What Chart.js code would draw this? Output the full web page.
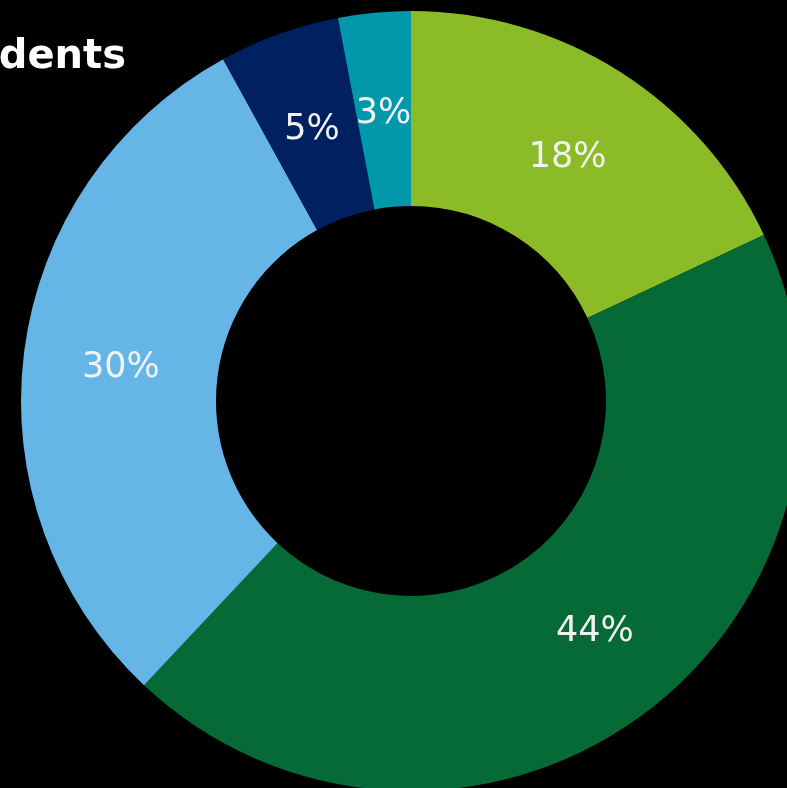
<!DOCTYPE html>
<html>
<head>
<meta charset="utf-8">
<script src="https://cdn.jsdelivr.net/npm/chart.js@4/dist/chart.umd.min.js"></script>
<style>
    html, body { margin: 0; padding: 0; background: #000; overflow: hidden; }
    #wrap { position: absolute; left: 0; top: 0; width: 822px; height: 802px; }
</style>
</head>
<body>
<div id="wrap"><canvas id="donut" width="822" height="802"></canvas></div>
<script>
const categories = ['A', 'B', 'C', 'D', 'E'];
const shares = [18, 44, 30, 5, 3];
const sliceColors = ['#8BBC28', '#056A36', '#65B5E6', '#00205F', '#0098AA'];
const titleText = 'dents';

// percentage labels in the middle of each ring segment
const sliceLabels = {
    id: 'sliceLabels',
    afterDatasetsDraw(chart) {
        const ctx = chart.ctx;
        const meta = chart.getDatasetMeta(0);
        ctx.save();
        ctx.fillStyle = '#F2F2F2';
        ctx.font = '35px "DejaVu Sans"';
        ctx.textAlign = 'center';
        ctx.textBaseline = 'middle';
        meta.data.forEach((arc, i) => {
            const p = arc.tooltipPosition();
            let dx = 0, dy = 4;
            if (i === 1) { dx = 12; dy = -6; } // the big slice label sits a bit off-centre
            ctx.fillText(shares[i] + '%', p.x + dx, p.y + dy);
        });
        // cut-off title at the top left
        ctx.fillStyle = '#FFFFFF';
        ctx.font = 'bold 40px "DejaVu Sans"';
        ctx.textAlign = 'right';
        ctx.textBaseline = 'alphabetic';
        ctx.fillText(titleText, 126, 68);
        ctx.restore();
    }
};

const ctx = document.getElementById('donut').getContext('2d');
const donutChart = new Chart(ctx, {
    type: 'doughnut',
    data: {
        labels: categories,
        datasets: [{
            data: shares,
            backgroundColor: sliceColors,
            borderWidth: 0
        }]
    },
    options: {
        responsive: false,
        animation: false,
        devicePixelRatio: 1,
        cutout: '50%',
        layout: { padding: { left: 21, right: 21, top: 11, bottom: 11 } },
        plugins: {
            legend: { display: false },
            tooltip: { enabled: false }
        }
    },
    plugins: [sliceLabels]
});
</script>
</body>
</html>
